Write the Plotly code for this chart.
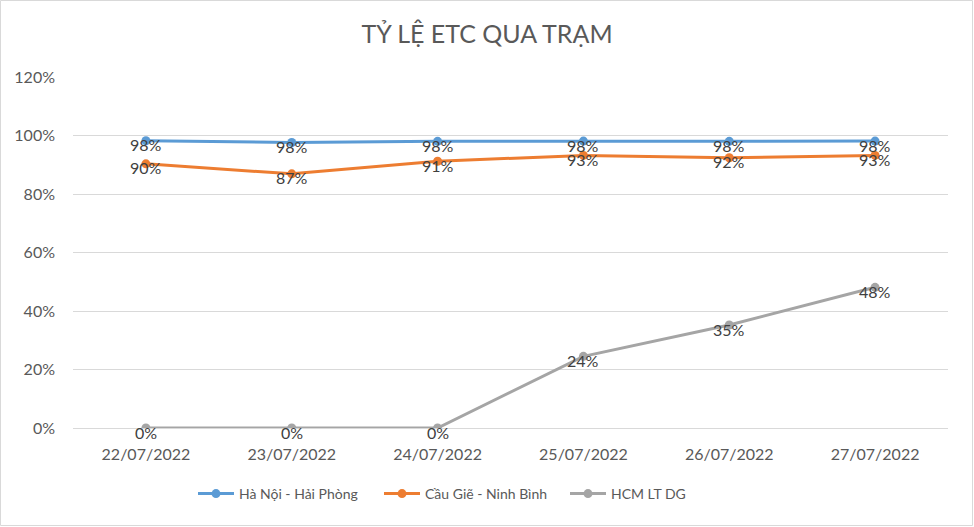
import plotly.graph_objects as go

categories = ["22/07/2022", "23/07/2022", "24/07/2022", "25/07/2022", "26/07/2022", "27/07/2022"]
hn_hp = [0.982, 0.976, 0.980, 0.981, 0.980, 0.981]
cg_nb = [0.903, 0.869, 0.912, 0.932, 0.924, 0.932]
hcm = [0.0, 0.0, 0.0, 0.245, 0.352, 0.481]
series_names = ["Hà Nội - Hải Phòng", "Cầu Giẽ - Ninh Bình", "HCM LT DG"]
series_values = [hn_hp, cg_nb, hcm]
colors = ["#5B9BD5", "#ED7D31", "#A5A5A5"]
y_ticks = [0, 0.2, 0.4, 0.6, 0.8, 1.0, 1.2]

FONT = "Lato, Open Sans, sans-serif"
W, H = 974, 527
ml, mr, mt, mb = 73, 26, 77, 99

fig = go.Figure()
annotations = []
for name, vals, col in zip(series_names, series_values, colors):
    fig.add_trace(go.Scatter(
        x=categories, y=vals, name=name, mode="lines+markers",
        line=dict(color=col, width=3),
        marker=dict(color=col, size=9, symbol="circle"),
    ))
    for c, v in zip(categories, vals):
        annotations.append(dict(
            x=c, y=v, xref="x", yref="y", text=f"{round(v*100):.0f}%",
            showarrow=False, yshift=-4,
            font=dict(family=FONT, size=16, color="#404040"),
        ))

pw = W - ml - mr
ph = H - mt - mb
fig.add_shape(type="rect", xref="paper", yref="paper",
              x0=-(ml - 0.5) / pw, x1=1 + (mr - 1.5) / pw,
              y0=-(mb - 1.5) / ph, y1=1 + (mt - 0.5) / ph,
              line=dict(color="#D9D9D9", width=1), layer="below")

fig.update_layout(
    width=W, height=H,
    margin=dict(l=ml, r=mr, t=mt, b=mb),
    paper_bgcolor="white", plot_bgcolor="white",
    title=dict(text="TỶ LỆ ETC QUA TRẠM", x=0.5, xanchor="center", y=1 - 34 / H, yanchor="middle",
               font=dict(family=FONT, size=25, color="#595959")),
    font=dict(family=FONT, color="#595959"),
    showlegend=True,
    legend=dict(orientation="h", x=(193 - ml) / pw, xanchor="left", y=-(494 - 428) / ph, yanchor="middle",
                font=dict(family=FONT, size=14, color="#595959"), itemwidth=36, tracegroupgap=0,
                entrywidth=135, entrywidthmode="pixels"),
    annotations=annotations,
    xaxis=dict(type="category", showgrid=False, showline=True, linecolor="#D9D9D9", linewidth=1,
               ticks="", tickfont=dict(family=FONT, size=16, color="#595959"), range=[-0.5, 5.5],
               ticklabelstandoff=12),
    yaxis=dict(range=[0, 1.2], tickvals=y_ticks, tickformat=".0%", showgrid=True, gridcolor="#D9D9D9",
               gridwidth=1, zeroline=False, showline=False, ticks="",
               tickfont=dict(family=FONT, size=16, color="#595959"), ticklabelstandoff=17),
)

fig.write_html("out.html", config={"displayModeBar": False},
               post_script="document.body.style.margin='0';")
